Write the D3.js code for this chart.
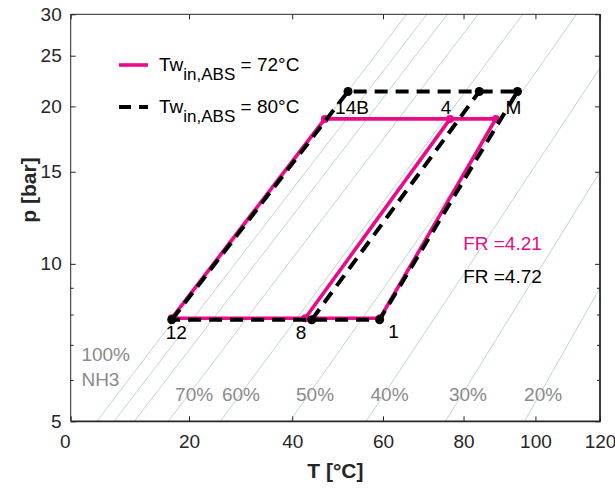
<!DOCTYPE html>
<html><head><meta charset="utf-8">
<script src="https://cdn.jsdelivr.net/npm/d3@7"></script>
<style>
body{margin:0;background:#fff}
svg{display:block}
text{font-family:"Liberation Sans",Arial,Helvetica,sans-serif}
</style>
</head><body><svg id="c" width="615" height="488"></svg>
<script>
// ---- data ----
const xTicks = [0, 20, 40, 60, 80, 100, 120];
const yTicks = [5, 10, 15, 20, 25, 30];
const yMinorTicks = [6, 7, 8, 9];

// iso-concentration lines (NH3 mass fraction), start/end in [T degC, p bar]
const isoNames = ["100%", "90%", "80%", "70%", "60%", "50%", "40%", "30%", "20%"];
const isoStart = [[4.2,5],[7.0,5],[10.4,5],[16.3,5],[25.8,5],[39.5,5],[56.1,5],[75.3,5],[96.8,5]];
const isoEnd   = [[65.6,30],[70.6,30],[75.8,30],[83.9,30],[96.3,30],[112.5,30],[120,23.7],[120,15.0],[120,9.0]];

// iso labels [text, T, p]
const isoLabelText = ["100%", "NH3", "70%", "60%", "50%", "40%", "30%", "20%"];
const isoLabelT    = [1.7, 1.7, 17.5, 26.1, 40.8, 57.1, 76.2, 96.7];
const isoLabelP    = [6.52, 5.85, 5.47, 5.47, 5.47, 5.47, 5.47, 5.47];

// cycle state points: 12, 14B, 4, M, 1, 8
const pointNames = ["12", "14B", "4", "M", "1", "8"];
const pinkT  = [16.9, 46.9, 76.5, 88.7, 59.3, 42.7];
const pinkP  = [7.87, 18.93, 18.93, 18.93, 7.87, 7.87];
const blackT = [16.9, 52.0, 84.2, 94.8, 59.2, 44.1];
const blackP = [7.82, 21.36, 21.36, 21.36, 7.82, 7.82];
const loopOrder = [0, 1, 2, 3, 4, 5, 0];
const innerOrder = [5, 2];

const seriesNames = ["72°C", "80°C"];
const frValues = ["4.21", "4.72"];
const frT = [79.9, 79.9];
const frP = [10.63, 9.19];

// ---- layout / scales ----
const L = 70.7, R = 600, TOP = 14.3, BOT = 421.3;
const PINK = "#ea0a8c", AX = "#262626", GRID = "#c3d6ce", LABG = "#8a8a8a";
const svg = d3.select("#c");
const kx = t => -1 / (t + 273.15);
const xs = d3.scaleLinear().domain([kx(0), kx(120)]).range([L, R]);
const X = t => xs(kx(t));
const ys = d3.scaleLog().domain([5, 30]).range([BOT, TOP]);

// iso lines
svg.append("g").selectAll("line").data(isoStart).join("line")
  .attr("x1", d => X(d[0])).attr("y1", d => ys(d[1]))
  .attr("x2", (d, i) => X(isoEnd[i][0])).attr("y2", (d, i) => ys(isoEnd[i][1]))
  .attr("stroke", GRID).attr("stroke-width", 1);

// iso labels
svg.append("g").selectAll("text").data(isoLabelText).join("text")
  .attr("x", (d, i) => X(isoLabelT[i])).attr("y", (d, i) => ys(isoLabelP[i]))
  .attr("font-size", 19).attr("fill", LABG).text(d => d);

// axes
const fmtX = d3.format("d");
const xAxisB = d3.axisBottom(xs).tickValues(xTicks.map(kx))
  .tickFormat((d, i) => fmtX(xTicks[i])).tickSizeInner(-5).tickSizeOuter(0).tickPadding(12);
const gxb = svg.append("g").attr("transform", `translate(0,${BOT})`).call(xAxisB);
gxb.selectAll("text").attr("font-size", 19).attr("fill", AX).attr("dy", "0.75em")
  .attr("dx", (d, i) => i === 0 ? -6 : 0);
const xAxisT = d3.axisTop(xs).tickValues(xTicks.map(kx)).tickFormat("").tickSizeInner(-5).tickSizeOuter(0);
svg.append("g").attr("transform", `translate(0,${TOP})`).call(xAxisT);

const yAxisL = d3.axisLeft(ys).tickValues(yTicks).tickFormat(d3.format("d"))
  .tickSizeInner(-5).tickSizeOuter(0).tickPadding(9);
const gyl = svg.append("g").attr("transform", `translate(${L},0)`).call(yAxisL);
gyl.selectAll("text").attr("font-size", 19).attr("fill", AX);
svg.append("g").attr("transform", `translate(${L},0)`)
  .call(d3.axisLeft(ys).tickValues(yMinorTicks).tickFormat("").tickSizeInner(-3).tickSizeOuter(0));
svg.append("g").attr("transform", `translate(${R},0)`)
  .call(d3.axisRight(ys).tickValues(yTicks).tickFormat("").tickSizeInner(-5).tickSizeOuter(0));
svg.append("g").attr("transform", `translate(${R},0)`)
  .call(d3.axisRight(ys).tickValues(yMinorTicks).tickFormat("").tickSizeInner(-3).tickSizeOuter(0));
svg.selectAll(".domain").remove();
svg.selectAll(".tick line").attr("stroke", AX).attr("stroke-width", 1);

// box
svg.append("path")
  .attr("d", `M${L},${BOT}V${TOP}H${R}`).attr("fill", "none").attr("stroke", AX).attr("stroke-width", 1);
svg.append("path")
  .attr("d", `M${L},${BOT}H${R}V${TOP}`).attr("fill", "none").attr("stroke", AX).attr("stroke-width", 1.8);

// axis titles
svg.append("text").attr("x", (L + R) / 2).attr("y", 478).attr("text-anchor", "middle")
  .attr("font-size", 21).attr("font-weight", "bold").attr("fill", AX).text("T [°C]");
svg.append("text").attr("transform", `translate(36,190) rotate(-90)`)
  .attr("text-anchor", "middle").attr("font-size", 21).attr("font-weight", "bold").attr("fill", AX).text("p [bar]");

// cycles
const line = d3.line().x(d => X(d[0])).y(d => ys(d[1]));
function pts(T, P, order) { return order.map(i => [T[i], P[i]]); }

const gp = svg.append("g");
[loopOrder, innerOrder].forEach(o => {
  gp.append("path").attr("d", line(pts(pinkT, pinkP, o))).attr("fill", "none")
    .attr("stroke", PINK).attr("stroke-width", 3.6).attr("stroke-linejoin", "round");
});
gp.selectAll("circle").data(pinkT).join("circle")
  .attr("cx", d => X(d)).attr("cy", (d, i) => ys(pinkP[i])).attr("r", 4).attr("fill", PINK);

const gb = svg.append("g");
[loopOrder, innerOrder].forEach(o => {
  gb.append("path").attr("d", line(pts(blackT, blackP, o))).attr("fill", "none")
    .attr("stroke", "#000").attr("stroke-width", 4).attr("stroke-dasharray", "13,8");
});
gb.selectAll("circle").data(blackT).join("circle")
  .attr("cx", d => X(d)).attr("cy", (d, i) => ys(blackP[i])).attr("r", 4.5).attr("fill", "#000");

// point labels
const labelAnchor = [[blackT, blackP, 0, 4.5, 19], [blackT, blackP, 1, 4, 22.5], [pinkT, pinkP, 2, -4, -5],
                     [blackT, blackP, 3, -4, 22.5], [blackT, blackP, 4, 14, 18], [pinkT, pinkP, 5, -4, 21]];
svg.append("g").selectAll("text").data(pointNames).join("text")
  .attr("x", (d, i) => X(labelAnchor[i][0][labelAnchor[i][2]]) + labelAnchor[i][3])
  .attr("y", (d, i) => ys(labelAnchor[i][1][labelAnchor[i][2]]) + labelAnchor[i][4])
  .attr("text-anchor", "middle").attr("font-size", 19).attr("fill", "#000").text(d => d);

// FR labels
svg.append("g").selectAll("text").data(frValues).join("text")
  .attr("x", (d, i) => X(frT[i])).attr("y", (d, i) => ys(frP[i]))
  .attr("font-size", 19).attr("fill", (d, i) => i === 0 ? PINK : "#000").text(d => "FR =" + d);

// legend
const lg = svg.append("g");
seriesNames.forEach((s, i) => {
  const y = 65 + i * 42;
  lg.append("line").attr("x1", 119).attr("x2", 148).attr("y1", y).attr("y2", y)
    .attr("stroke", i === 0 ? PINK : "#000").attr("stroke-width", i === 0 ? 3.6 : 4)
    .attr("stroke-dasharray", i === 0 ? null : "12,8");
  const t = lg.append("text").attr("x", 159).attr("y", y + 5.7).attr("font-size", 19).attr("fill", "#000");
  t.append("tspan").text("Tw");
  t.append("tspan").attr("font-size", 17).attr("dy", 9.3).text("in,ABS");
  t.append("tspan").attr("dy", -9.3).text(" = " + s);
});
</script>
</body></html>
